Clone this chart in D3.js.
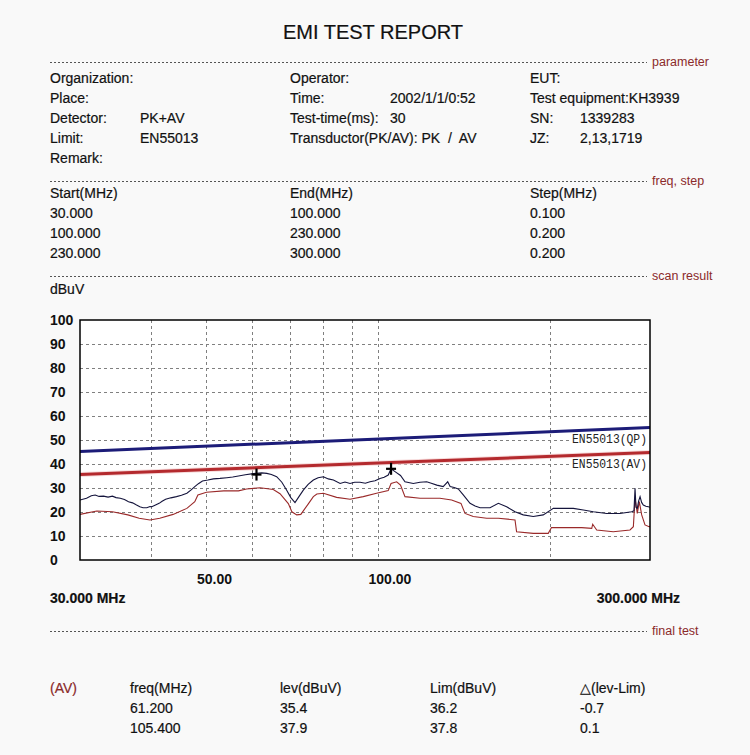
<!DOCTYPE html>
<html>
<head>
<meta charset="utf-8">
<script src="https://cdn.jsdelivr.net/npm/d3@7/dist/d3.min.js"></script>
<style>
  html, body { margin: 0; padding: 0; background: #f9f9f9; }
  svg { display: block; }
  .t { font-family: "Liberation Sans Narrow", "Arial Narrow", "Liberation Sans", sans-serif; font-size: 14px; fill: #111; stroke: #111; stroke-width: 0.2px; }
  .sec { font-family: "Liberation Sans", sans-serif; font-size: 12.5px; fill: #8b2a2a; }
</style>
</head>
<body>
<svg id="c" width="750" height="755"></svg>
<script>
// ---------------- data ----------------
const yTicks = [0, 10, 20, 30, 40, 50, 60, 70, 80, 90, 100];
const xGrid = [40, 50, 60, 70, 80, 90, 100, 200];
const xLabels = [50, 100];

const limitFreq = [30, 300];
const limitQP = [45.2, 55.2];
const limitAV = [35.6, 44.8];

const pkFreq = [30, 30.8, 31.4, 31.9, 32.4, 33.0, 33.6, 34.2, 34.7, 35.3, 35.9, 36.5, 37.1, 37.7, 38.2, 38.7, 39.3, 39.8, 40.1, 40.7, 41.3, 41.8, 42.4, 43.3, 44.3, 45.2, 46.2, 47.0, 47.7, 48.4, 49.2, 50.3, 51.4, 52.8, 54.3, 55.6, 56.9, 58.5, 60.4, 61.2, 62.5, 63.8, 65.0, 66.4, 67.8, 69.1, 70.3, 71.5, 72.7, 74.0, 75.4, 77.0, 78.5, 80.2, 81.8, 83.5, 85.8, 87.5, 89.3, 91.0, 93.0, 95.0, 96.8, 98.8, 100.8, 102.5, 104.2, 105.4, 107.1, 109.5, 111.5, 115.3, 118.5, 121.7, 124.0, 126.8, 130.1, 132.5, 133.8, 136.0, 138.3, 141.1, 145.0, 148.0, 151.0, 157.2, 162.6, 168.1, 173.9, 179.8, 187.2, 194.9, 203.0, 211.4, 220.1, 229.2, 238.6, 251.8, 265.7, 278.6, 281.2, 282.4, 283.5, 285.0, 286.5, 288.2, 290.0, 292.0, 295.0, 298.0, 300];
const pkLev  = [25.0, 25.7, 26.8, 27.1, 26.5, 26.6, 26.2, 26.6, 26.0, 25.7, 25.2, 24.3, 23.8, 22.9, 22.2, 21.8, 21.8, 22.3, 22.2, 22.9, 23.6, 24.5, 25.3, 25.9, 26.4, 27.0, 27.8, 29.2, 30.6, 31.8, 32.9, 33.3, 33.8, 34.0, 34.3, 34.6, 35.0, 35.5, 36.0, 36.1, 36.3, 36.1, 35.6, 34.7, 32.4, 29.2, 26.0, 23.9, 26.5, 29.2, 31.5, 33.3, 34.3, 34.7, 33.8, 33.3, 31.9, 32.5, 31.9, 32.4, 32.4, 32.0, 32.6, 33.0, 34.0, 34.5, 35.4, 38.0, 36.8, 35.2, 32.6, 31.9, 32.4, 32.6, 32.0, 31.2, 30.6, 32.6, 30.6, 30.2, 29.6, 27.1, 23.6, 22.5, 21.8, 21.8, 23.6, 22.2, 20.1, 18.8, 18.1, 18.8, 21.5, 21.5, 21.5, 20.8, 20.1, 19.4, 19.4, 20.1, 20.5, 29.9, 22.0, 21.5, 24.5, 26.4, 24.0, 22.9, 22.4, 22.2, 22.0];

const avFreq = [30, 32.1, 34.2, 36.4, 38.1, 39.8, 41.4, 43.7, 46.2, 47.7, 48.3, 50.0, 53.6, 56.9, 58.8, 62.1, 65.5, 67.3, 69.6, 70.6, 72.0, 73.2, 74.0, 75.4, 77.0, 78.1, 80.2, 84.6, 89.3, 94.2, 99.4, 104.2, 105.4, 107.8, 109.5, 111.5, 118.5, 128.4, 134.6, 139.8, 142.1, 146.9, 155.1, 162.6, 173.9, 175.0, 187.2, 198.9, 201.5, 215.0, 227.7, 237.1, 238.0, 241.9, 258.6, 276.7, 280.5, 282.4, 285.0, 287.3, 290.1, 294.0, 299.0, 300];
const avLev  = [19.0, 20.4, 20.1, 18.8, 17.4, 16.7, 17.4, 19.0, 21.5, 24.3, 27.1, 28.2, 28.8, 28.8, 29.6, 30.1, 29.4, 27.6, 23.5, 20.1, 18.8, 19.0, 20.6, 23.3, 26.4, 27.5, 27.8, 26.1, 25.3, 26.4, 27.8, 28.9, 31.9, 32.6, 31.2, 26.4, 25.7, 25.7, 25.0, 23.6, 19.4, 18.1, 17.4, 17.4, 16.7, 11.8, 11.1, 11.1, 13.5, 13.5, 13.5, 13.2, 14.9, 12.5, 11.8, 12.5, 13.9, 25.7, 19.4, 24.3, 18.8, 14.6, 13.9, 13.9];

const markerFreq = [61.2, 105.4];
const markerLev = [35.6, 38.0];

const limitLabels = ["EN55013(QP)", "EN55013(AV)"];

const paramRows = [
  ["Organization:", "", "Operator:", "", "EUT:", ""],
  ["Place:", "", "Time:", "2002/1/1/0:52", "Test equipment:KH3939", ""],
  ["Detector:", "PK+AV", "Test-time(ms):", "30", "SN:", "1339283"],
  ["Limit:", "EN55013", "Transductor(PK/AV): PK  /  AV", "", "JZ:", "2,13,1719"],
  ["Remark:", "", "", "", "", ""]
];
const freqRows = [
  ["Start(MHz)", "End(MHz)", "Step(MHz)"],
  ["30.000", "100.000", "0.100"],
  ["100.000", "230.000", "0.200"],
  ["230.000", "300.000", "0.200"]
];
const finalHeader = ["freq(MHz)", "lev(dBuV)", "Lim(dBuV)", "\u25B3(lev-Lim)"];
const finalRows = [
  ["61.200", "35.4", "36.2", "-0.7"],
  ["105.400", "37.9", "37.8", "0.1"]
];

// ---------------- drawing ----------------
const svg = d3.select("#c");
const L = 80, R = 650, T = 320, B = 560;
const x = d3.scaleLog().domain([30, 300]).range([L, R]);
const y = d3.scaleLinear().domain([0, 100]).range([B, T]);

svg.append("rect").attr("width", 750).attr("height", 755).attr("fill", "#f9f9f9");

// title
svg.append("text").attr("x", 373).attr("y", 39).attr("text-anchor", "middle")
  .attr("font-family", "'Liberation Sans Narrow','Liberation Sans',sans-serif")
  .attr("font-size", 20).attr("fill", "#111").attr("stroke", "#111").attr("stroke-width", 0.2)
  .text("EMI TEST REPORT");

// section separators
function section(yy, label) {
  svg.append("line").attr("x1", 50).attr("x2", 647).attr("y1", yy + 0.5).attr("y2", yy + 0.5)
    .attr("stroke", "#555").attr("stroke-width", 1).attr("stroke-dasharray", "2,2");
  svg.append("text").attr("class", "sec").attr("x", 652).attr("y", yy + 4).text(label);
}
section(62, "parameter");
section(181, "freq, step");
section(276, "scan result");
section(631, "final test");

// parameter block
const pcols = [50, 140, 290, 390, 530, 580];
paramRows.forEach((row, i) => {
  row.forEach((s, j) => {
    if (!s) return;
    svg.append("text").attr("class", "t").attr("x", pcols[j]).attr("y", 83 + i * 20)
      .attr("xml:space", "preserve").style("white-space", "pre").text(s);
  });
});

// freq block
const fcols = [50, 290, 530];
freqRows.forEach((row, i) => {
  row.forEach((s, j) => {
    svg.append("text").attr("class", "t").attr("x", fcols[j]).attr("y", 198 + i * 20).text(s);
  });
});

svg.append("text").attr("class", "t").attr("x", 50).attr("y", 294).text("dBuV");

// plot background
svg.append("rect").attr("x", L).attr("y", T).attr("width", R - L).attr("height", B - T)
  .attr("fill", "#ffffff");

// grid
const grid = svg.append("g");
grid.selectAll("line.h").data(yTicks.filter(d => d > 0 && d < 100)).join("line")
  .attr("x1", L).attr("x2", R).attr("y1", d => y(d) + 0.5).attr("y2", d => y(d) + 0.5)
  .attr("stroke", "#808080").attr("stroke-width", 1).attr("stroke-dasharray", "3,3");
grid.selectAll("line.v").data(xGrid).join("line")
  .attr("x1", d => Math.round(x(d)) + 0.5).attr("x2", d => Math.round(x(d)) + 0.5)
  .attr("y1", T).attr("y2", B)
  .attr("stroke", "#808080").attr("stroke-width", 1).attr("stroke-dasharray", "3,3");

// y axis labels
const yAxis = d3.axisLeft(y).tickValues(yTicks).tickSize(0).tickFormat(d3.format("d"));
const ya = svg.append("g").attr("transform", `translate(${L},0)`).call(yAxis);
ya.select(".domain").remove();
ya.selectAll("text").attr("x", -30).attr("text-anchor", "start")
  .attr("font-family", "'Liberation Sans','Arial',sans-serif").attr("font-weight", "bold")
  .attr("font-size", 14).attr("fill", "#111");

// x axis labels
const xAxis = d3.axisBottom(x).tickValues(xLabels).tickSize(0).tickFormat(d3.format(".2f"));
const xa = svg.append("g").attr("transform", `translate(0,${B})`).call(xAxis);
xa.select(".domain").remove();
xa.selectAll("text").attr("y", 14).attr("x", -10).attr("text-anchor", "start")
  .attr("font-family", "'Liberation Sans Narrow','Liberation Sans',sans-serif").attr("font-weight", "bold")
  .attr("font-size", 14).attr("fill", "#111");

svg.append("text").attr("class", "t").attr("x", 50).attr("y", 603).attr("font-weight", "bold").text("30.000 MHz");
svg.append("text").attr("class", "t").attr("x", 680).attr("y", 603).attr("text-anchor", "end").attr("font-weight", "bold").text("300.000 MHz");

// clip
svg.append("clipPath").attr("id", "clip").append("rect")
  .attr("x", L).attr("y", T).attr("width", R - L).attr("height", B - T);
const plot = svg.append("g").attr("clip-path", "url(#clip)");

const line = d3.line().x(d => x(d[0])).y(d => y(d[1]));

// limit label positions follow the limit lines at the right edge
const labelY = [y(limitQP[1]) + 15, y(limitAV[1]) + 16];
labelY.forEach(yy => {
  plot.append("rect").attr("x", 571).attr("y", yy - 11).attr("width", 77).attr("height", 14).attr("fill", "#fff");
});

// limit lines
plot.append("path").datum(limitFreq.map((f, i) => [f, limitAV[i]])).attr("d", line)
  .attr("fill", "none").attr("stroke", "#f7dddd").attr("stroke-width", 5);
plot.append("path").datum(limitFreq.map((f, i) => [f, limitAV[i]])).attr("d", line)
  .attr("fill", "none").attr("stroke", "#b42a2e").attr("stroke-width", 3);
plot.append("path").datum(limitFreq.map((f, i) => [f, limitQP[i]])).attr("d", line)
  .attr("fill", "none").attr("stroke", "#1c1c78").attr("stroke-width", 3);

// traces
plot.append("path").datum(avFreq.map((f, i) => [f, avLev[i]])).attr("d", line)
  .attr("fill", "none").attr("stroke", "#9a2a2a").attr("stroke-width", 1.1);
plot.append("path").datum(pkFreq.map((f, i) => [f, pkLev[i]])).attr("d", line)
  .attr("fill", "none").attr("stroke", "#14143c").attr("stroke-width", 1.1);

// markers
const mk = plot.selectAll("g.mk").data(markerFreq.map((f, i) => [f, markerLev[i]])).join("g")
  .attr("transform", d => `translate(${x(d[0])},${y(d[1])})`);
mk.append("line").attr("x1", -5).attr("x2", 5).attr("y1", 0).attr("y2", 0).attr("stroke", "#000").attr("stroke-width", 2.2);
mk.append("line").attr("x1", 0).attr("x2", 0).attr("y1", -6).attr("y2", 6).attr("stroke", "#000").attr("stroke-width", 2.2);

limitLabels.forEach((s, i) => {
  svg.append("text").attr("x", 647).attr("y", labelY[i]).attr("text-anchor", "end")
    .attr("font-family", "'Liberation Mono','DejaVu Sans Mono',monospace").attr("font-size", 13)
    .attr("textLength", 75).attr("lengthAdjust", "spacingAndGlyphs")
    .attr("fill", "#222").text(s);
});

// frame
svg.append("rect").attr("x", L).attr("y", T).attr("width", R - L).attr("height", B - T)
  .attr("fill", "none").attr("stroke", "#000").attr("stroke-width", 1.5);

// final test table
svg.append("text").attr("class", "t").attr("x", 50).attr("y", 693)
  .style("fill", "#8b2a2a").style("stroke", "#8b2a2a").text("(AV)");
const tcols = [130, 280, 430, 580];
finalHeader.forEach((s, j) => {
  svg.append("text").attr("class", "t").attr("x", tcols[j]).attr("y", 693).text(s);
});
finalRows.forEach((row, i) => {
  row.forEach((s, j) => {
    svg.append("text").attr("class", "t").attr("x", tcols[j]).attr("y", 713 + i * 20).text(s);
  });
});
</script>
</body>
</html>
